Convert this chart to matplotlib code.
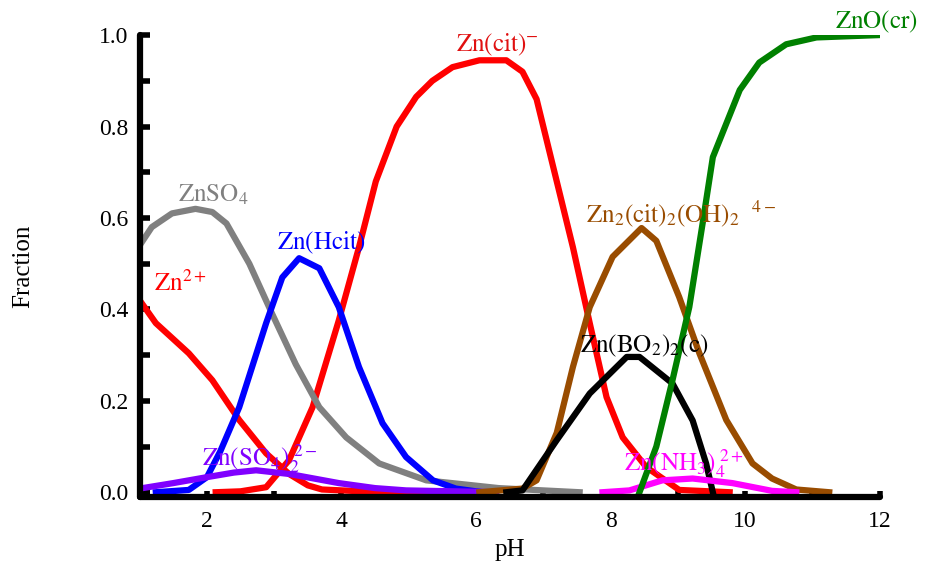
import matplotlib
matplotlib.use('Agg')
from matplotlib import pyplot as plt
from matplotlib.ticker import MultipleLocator
import numpy as np

plt.rcParams['font.family'] = ['Liberation Serif', 'DejaVu Serif']
plt.rcParams['mathtext.fontset'] = 'stix'

# Fractions (pH, fraction)
zn2_ph = [1.0, 1.24, 1.5, 1.73, 2.08, 2.48, 2.88, 3.22, 3.5, 3.71, 4.3, 5.0, 6.0]
zn2_frac = [0.42, 0.37, 0.335, 0.304, 0.245, 0.158, 0.085, 0.04, 0.015, 0.006, 0.002, 0.0, 0.0]

cit_ph = [2.13, 2.5, 2.88, 3.22, 3.57, 3.96, 4.26, 4.51, 4.82, 5.11, 5.35, 5.65,
          6.05, 6.45, 6.69, 6.9, 7.2, 7.44, 7.69, 7.94, 8.18, 8.53, 9.02, 9.77]
cit_frac = [0.0, 0.002, 0.011, 0.07, 0.186, 0.376, 0.536, 0.68, 0.80, 0.865, 0.90, 0.93,
            0.945, 0.945, 0.92, 0.86, 0.68, 0.536, 0.37, 0.208, 0.12, 0.055, 0.005, 0.0]

znso4_ph = [1.0, 1.18, 1.48, 1.83, 2.08, 2.29, 2.63, 2.97, 3.32, 3.67, 4.07, 4.56, 5.26, 6.34, 7.0, 7.54]
znso4_frac = [0.54, 0.58, 0.61, 0.62, 0.613, 0.588, 0.50, 0.39, 0.28, 0.186, 0.12, 0.063, 0.026, 0.009, 0.004, 0.0]

hcit_ph = [1.24, 1.73, 2.0, 2.2, 2.48, 2.88, 3.12, 3.37, 3.67, 3.96, 4.26, 4.61, 4.96, 5.36, 5.7, 6.1]
hcit_frac = [0.0, 0.005, 0.033, 0.09, 0.186, 0.37, 0.47, 0.512, 0.49, 0.405, 0.274, 0.151, 0.077, 0.026, 0.008, 0.0]

so42_ph = [1.0, 1.5, 2.0, 2.4, 2.73, 3.22, 3.96, 4.5, 4.96, 6.0, 6.3]
so42_frac = [0.008, 0.02, 0.033, 0.043, 0.048, 0.04, 0.02, 0.009, 0.004, 0.001, 0.0]

dimer_ph = [6.05, 6.69, 6.9, 7.2, 7.44, 7.69, 8.03, 8.46, 8.68, 9.02, 9.32, 9.72, 10.11, 10.4, 10.76, 11.25]
dimer_frac = [0.0, 0.008, 0.026, 0.13, 0.274, 0.405, 0.515, 0.578, 0.55, 0.427, 0.304, 0.158, 0.063, 0.03, 0.006, 0.0]

bo2_ph = [6.45, 6.69, 7.2, 7.69, 8.24, 8.43, 8.92, 9.22, 9.42, 9.52]
bo2_frac = [0.0, 0.004, 0.114, 0.216, 0.296, 0.296, 0.238, 0.157, 0.063, 0.0]

nh3_ph = [7.88, 8.28, 8.77, 9.22, 9.81, 10.4, 10.76]
nh3_frac = [0.0, 0.004, 0.026, 0.03, 0.02, 0.003, 0.0]

zno_ph = [8.43, 8.68, 8.92, 9.17, 9.37, 9.52, 9.92, 10.21, 10.61, 11.06, 11.96]
zno_frac = [0.0, 0.1, 0.245, 0.405, 0.59, 0.733, 0.88, 0.94, 0.98, 0.995, 1.0]

fig = plt.figure(figsize=(9.25, 5.67), dpi=100)
ax = fig.add_axes([0.151, 0.123, 0.80, 0.815])

lw = 4.5
ax.plot(zn2_ph, zn2_frac, color='#ff0000', lw=lw)
ax.plot(cit_ph, cit_frac, color='#ff0000', lw=lw)
ax.plot(znso4_ph, znso4_frac, color='#808080', lw=lw)
ax.plot(hcit_ph, hcit_frac, color='#0000ff', lw=lw)
ax.plot(so42_ph, so42_frac, color='#8000ff', lw=lw)
ax.plot(dimer_ph, dimer_frac, color='#994c00', lw=lw)
ax.plot(bo2_ph, bo2_frac, color='black', lw=lw)
ax.plot(nh3_ph, nh3_frac, color='#ff00ff', lw=lw)
ax.plot(zno_ph, zno_frac, color='#008000', lw=lw)

fs = 18
ax.text(6.32, 0.978, r'$\mathrm{Zn(cit)^{-}}$', color='#e01010', fontsize=fs, ha='center', va='center')
ax.text(11.95, 1.03, r'$\mathrm{ZnO(cr)}$', color='#008000', fontsize=fs, ha='center', va='center', clip_on=False)
ax.text(2.1, 0.65, r'$\mathrm{ZnSO_4}$', color='#808080', fontsize=fs, ha='center', va='center')
ax.text(3.7, 0.545, r'$\mathrm{Zn(Hcit)}$', color='#0000ff', fontsize=fs, ha='center', va='center')
ax.text(1.6, 0.457, r'$\mathrm{Zn^{2+}}$', color='#ff0000', fontsize=fs, ha='center', va='center')
ax.text(7.64, 0.61, r'$\mathrm{Zn_2(cit)_2(OH)_2\ \ ^{4-}}$', color='#994c00', fontsize=fs, ha='left', va='center')
ax.text(7.54, 0.32, r'$\mathrm{Zn(BO_2)_2(c)}$', color='black', fontsize=fs, ha='left', va='center')
ax.text(8.2, 0.063, r'$\mathrm{Zn(NH_3)_4^{\ 2+}}$', color='#ff00ff', fontsize=fs, ha='left', va='center')
ax.text(1.93, 0.074, r'$\mathrm{Zn(SO_4)_2^{\ 2-}}$', color='#8000ff', fontsize=fs, ha='left', va='center')

ax.set_xlim(1, 12)
ax.set_ylim(-0.011, 1.0)
ax.spines['top'].set_visible(False)
ax.spines['right'].set_visible(False)
for s in ['left', 'bottom']:
    ax.spines[s].set_linewidth(4.5)
    ax.spines[s].set_capstyle('round')

ax.xaxis.set_major_locator(MultipleLocator(2))
ax.xaxis.set_minor_locator(MultipleLocator(1))
ax.yaxis.set_minor_locator(MultipleLocator(0.1))
ax.set_yticks(np.arange(0, 1.01, 0.2))
ax.set_yticklabels(['%.1f' % v for v in np.arange(0, 1.01, 0.2)])
ax.tick_params(which='both', direction='in', width=4, labelsize=17)
ax.tick_params(axis='y', which='both', length=7, pad=8)
ax.tick_params(axis='x', which='both', length=4, pad=10)

ax.set_xlabel('pH', fontsize=18, labelpad=5)
ax.set_ylabel('Fraction', fontsize=18, labelpad=47)

fig.savefig('out.png', dpi=100)
